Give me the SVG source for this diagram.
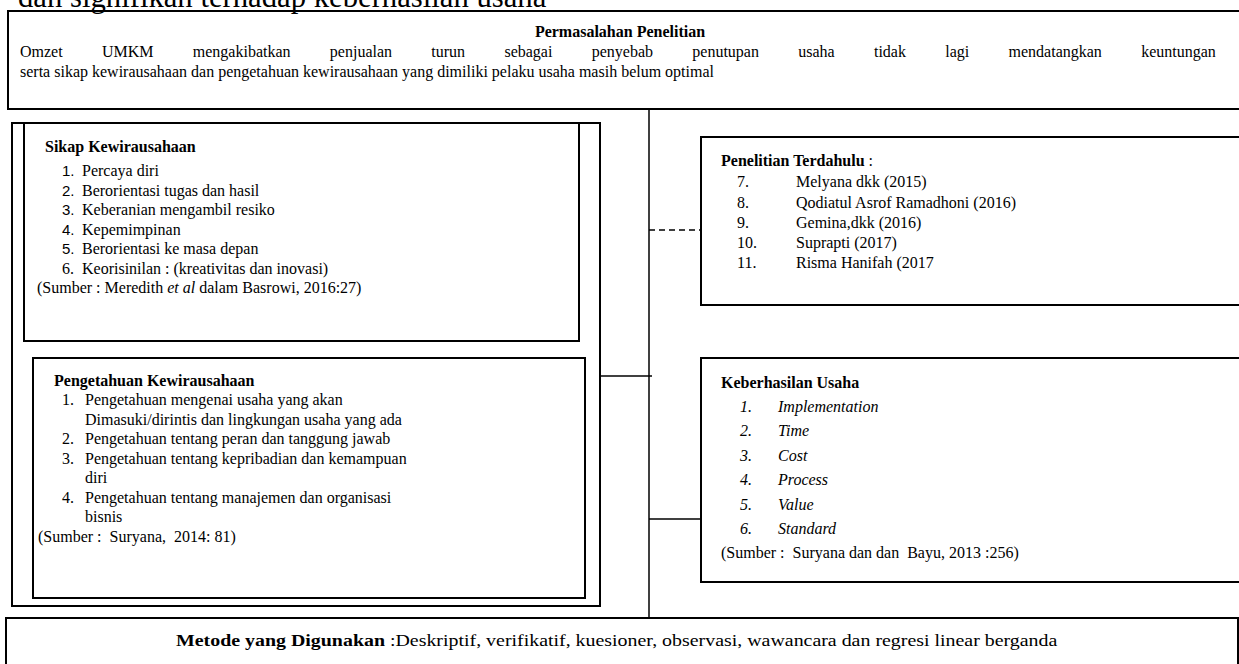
<svg xmlns="http://www.w3.org/2000/svg" width="1239" height="664" viewBox="0 0 1239 664">
<style>
text{font-family:"Liberation Serif","Times New Roman",serif;font-size:16px;fill:#000}
.b{font-weight:bold}
.i{font-style:italic}
.n{font-family:"Liberation Sans",Arial,sans-serif;font-size:15px}
.box{fill:none;stroke:#000;stroke-width:2}
.ln{fill:none;stroke:#000;stroke-width:1.5}
.c{text-anchor:middle}
</style>
<rect width="1239" height="664" fill="#fff"/>
<text x="18" y="7" style="font-size:30.7px">dan signifikan terhadap keberhasilan usaha</text>

<g id="permasalahan">
<rect class="box" x="8" y="11" width="1250" height="98"/>
<text class="b c" x="620" y="37">Permasalahan Penelitian</text>
<text x="20" y="57" word-spacing="35.3">Omzet UMKM mengakibatkan penjualan turun sebagai penyebab penutupan usaha tidak lagi mendatangkan keuntungan</text>
<text x="20" y="77">serta sikap kewirausahaan dan pengetahuan kewirausahaan yang dimiliki pelaku usaha masih belum optimal</text>
</g>

<g id="variabel-x">
<rect class="box" x="12" y="123" width="588" height="483"/>
</g>

<g id="sikap">
<rect class="box" x="24" y="123" width="555" height="218"/>
<text class="b" x="45" y="152">Sikap Kewirausahaan</text>
<text class="n" x="62" y="176">1.</text><text x="82" y="176">Percaya diri</text>
<text class="n" x="62" y="196">2.</text><text x="82" y="196">Berorientasi tugas dan hasil</text>
<text class="n" x="62" y="215">3.</text><text x="82" y="215">Keberanian mengambil resiko</text>
<text class="n" x="62" y="235">4.</text><text x="82" y="235">Kepemimpinan</text>
<text class="n" x="62" y="254">5.</text><text x="82" y="254">Berorientasi ke masa depan</text>
<text x="62" y="274">6.</text><text x="82" y="274">Keorisinilan : (kreativitas dan inovasi)</text>
<text x="37" y="293">(Sumber : Meredith <tspan class="i">et al</tspan> dalam Basrowi, 2016:27)</text>
</g>

<g id="pengetahuan">
<rect class="box" x="33" y="358" width="552" height="240"/>
<text class="b" x="54" y="386">Pengetahuan Kewirausahaan</text>
<text x="62" y="405">1.</text><text x="85" y="405">Pengetahuan mengenai usaha yang akan</text>
<text x="85" y="425">Dimasuki/dirintis dan lingkungan usaha yang ada</text>
<text x="62" y="444">2.</text><text x="85" y="444">Pengetahuan tentang peran dan tanggung jawab</text>
<text x="62" y="464">3.</text><text x="85" y="464">Pengetahuan tentang kepribadian dan kemampuan</text>
<text x="85" y="483">diri</text>
<text x="62" y="503">4.</text><text x="85" y="503">Pengetahuan tentang manajemen dan organisasi</text>
<text x="85" y="522">bisnis</text>
<text x="38" y="542" xml:space="preserve">(Sumber :  Suryana,  2014: 81)</text>
</g>

<g id="penelitian-terdahulu">
<rect class="box" x="701" y="137" width="600" height="168"/>
<text x="721" y="166"><tspan class="b">Penelitian Terdahulu</tspan> :</text>
<text x="737" y="187">7.</text><text x="796" y="187">Melyana dkk (2015)</text>
<text x="737" y="208">8.</text><text x="796" y="208">Qodiatul Asrof Ramadhoni (2016)</text>
<text x="737" y="228">9.</text><text x="796" y="228">Gemina,dkk (2016)</text>
<text x="737" y="248">10.</text><text x="796" y="248">Suprapti (2017)</text>
<text x="737" y="268">11.</text><text x="796" y="268">Risma Hanifah (2017</text>
</g>

<g id="keberhasilan">
<rect class="box" x="701" y="358" width="600" height="224"/>
<text class="b" x="721" y="388">Keberhasilan Usaha</text>
<text class="i" x="740" y="412">1.</text><text class="i" x="778" y="412">Implementation</text>
<text class="i" x="740" y="436">2.</text><text class="i" x="778" y="436">Time</text>
<text class="i" x="740" y="461">3.</text><text class="i" x="778" y="461">Cost</text>
<text class="i" x="740" y="485">4.</text><text class="i" x="778" y="485">Process</text>
<text class="i" x="740" y="510">5.</text><text class="i" x="778" y="510">Value</text>
<text class="i" x="740" y="534">6.</text><text class="i" x="778" y="534">Standard</text>
<text x="721" y="558" xml:space="preserve">(Sumber :  Suryana dan dan  Bayu, 2013 :256)</text>
</g>

<g id="metode">
<rect class="box" x="6" y="618" width="1232" height="60"/>
<text transform="translate(176,646) scale(1.245,1)" x="0" y="0"><tspan class="b">Metode yang Digunakan</tspan> :Deskriptif, verifikatif, kuesioner, observasi, wawancara dan regresi linear berganda</text>
</g>

<g id="connectors">
<line class="ln" x1="649" y1="110" x2="649" y2="618"/>
<line class="ln" x1="600" y1="376" x2="652" y2="376"/>
<line class="ln" x1="649" y1="230" x2="701" y2="230" stroke-dasharray="6,4"/>
<line class="ln" x1="649" y1="519" x2="701" y2="519"/>
</g>
</svg>
